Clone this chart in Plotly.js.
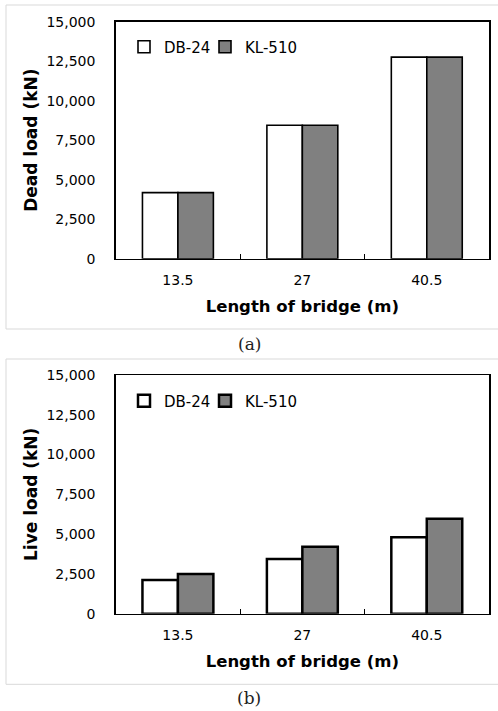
<!DOCTYPE html>
<html>
<head>
<meta charset="utf-8">
<script src="https://cdn.plot.ly/plotly-3.0.1.min.js"></script>
<style>
html,body{margin:0;padding:0;background:#fff;}
#chart{width:498px;height:711px;}
</style>
</head>
<body>
<div id="chart"></div>
<script>
// ---- data ----
var lengths = ['13.5', '27', '40.5'];
var seriesNames = ['DB-24', 'KL-510'];
var deadDB = [4180, 8450, 12760];
var deadKL = [4180, 8450, 12760];
var liveDB = [2120, 3430, 4810];
var liveKL = [2500, 4200, 5960];
var yTicks = [0, 2500, 5000, 7500, 10000, 12500, 15000];
var xTitle = 'Length of bridge (m)';
var deadTitle = 'Dead load (kN)';
var liveTitle = 'Live load (kN)';
var captions = ['(a)', '(b)'];

var W = 498, H = 711;
var FONT = 'DejaVu Sans, Verdana, sans-serif';
function py(p) { return 1 - p / H; }
function px(p) { return p / W; }

function barTrace(name, vals, color, xa, ya, lw, lg) {
  return {
    type: 'bar', name: name, x: lengths, y: vals,
    xaxis: xa, yaxis: ya, legend: lg,
    marker: {color: color, line: {color: '#000', width: lw}},
    showlegend: true, hoverinfo: 'x+y+name'
  };
}

var traces = [
  barTrace(seriesNames[0], deadDB, '#ffffff', 'x', 'y', 1.6, 'legend'),
  barTrace(seriesNames[1], deadKL, '#808080', 'x', 'y', 1.6, 'legend2'),
  barTrace(seriesNames[0], liveDB, '#ffffff', 'x2', 'y2', 2.5, 'legend3'),
  barTrace(seriesNames[1], liveKL, '#808080', 'x2', 'y2', 2.5, 'legend4')
];

function xAxis(anchor, dom) {
  return {
    domain: dom, anchor: anchor, type: 'category',
    showline: true, linecolor: '#000', linewidth: 1.5, mirror: true,
    ticks: 'inside', tickson: 'boundaries', ticklen: 5, tickwidth: 1.2, tickcolor: '#000',
    showgrid: false, zeroline: false, fixedrange: true,
    tickfont: {family: FONT, size: 14, color: '#000'},
    ticklabelstandoff: 8,
    title: {text: xTitle, font: {family: FONT, size: 16.5, color: '#000', weight: 'bold'}, standoff: 13},
    automargin: false
  };
}
function yAxis(anchor, dom, title) {
  return {
    domain: dom, anchor: anchor, range: [0, 15000],
    tickvals: yTicks, tickformat: ',d',
    showline: true, linecolor: '#000', linewidth: 1.5, mirror: true,
    ticks: '', showgrid: false, zeroline: false, fixedrange: true,
    tickfont: {family: FONT, size: 14, color: '#000'},
    ticklabelstandoff: 16,
    title: {text: title, font: {family: FONT, size: 17, color: '#000', weight: 'bold'}, standoff: 4},
    automargin: false
  };
}

var xdom = [px(115.7), px(489)];
function legendCfg(xs, yc) {
  return {
    x: px(xs), y: py(yc), xanchor: 'left', yanchor: 'middle',
    orientation: 'h', bgcolor: 'rgba(0,0,0,0)', borderwidth: 0,
    font: {family: FONT, size: 15, color: '#000'},
    itemclick: false, itemdoubleclick: false
  };
}
var capFont = {family: 'DejaVu Serif, serif', size: 17, color: '#222'};
var layout = {
  width: W, height: H,
  margin: {l: 0, r: 0, t: 0, b: 0},
  paper_bgcolor: '#fff', plot_bgcolor: '#fff',
  barmode: 'group', bargap: 0.43, bargroupgap: 0,
  font: {family: FONT, color: '#000'},
  xaxis: xAxis('y', xdom),
  yaxis: yAxis('x', [py(258.7), py(21.7)], deadTitle),
  xaxis2: xAxis('y2', xdom),
  yaxis2: yAxis('x2', [py(613.7), py(375)], liveTitle),
  legend: legendCfg(124, 47),
  legend2: legendCfg(205, 47),
  legend3: legendCfg(124, 401),
  legend4: legendCfg(205, 401),
  shapes: [
    {type: 'rect', xref: 'paper', yref: 'paper', x0: px(6), x1: px(505), y0: py(329), y1: py(5),
     line: {color: '#d9d9d9', width: 1}, layer: 'below'},
    {type: 'rect', xref: 'paper', yref: 'paper', x0: px(6), x1: px(505), y0: py(684.3), y1: py(359),
     line: {color: '#d9d9d9', width: 1}, layer: 'below'}
  ],
  annotations: [
    {xref: 'paper', yref: 'paper', x: 0.5, y: py(344), text: captions[0], showarrow: false,
     xanchor: 'center', yanchor: 'middle', font: capFont},
    {xref: 'paper', yref: 'paper', x: 0.5, y: py(698), text: captions[1], showarrow: false,
     xanchor: 'center', yanchor: 'middle', font: capFont}
  ]
};

Plotly.newPlot('chart', traces, layout, {displayModeBar: false, staticPlot: true});
</script>
</body>
</html>
